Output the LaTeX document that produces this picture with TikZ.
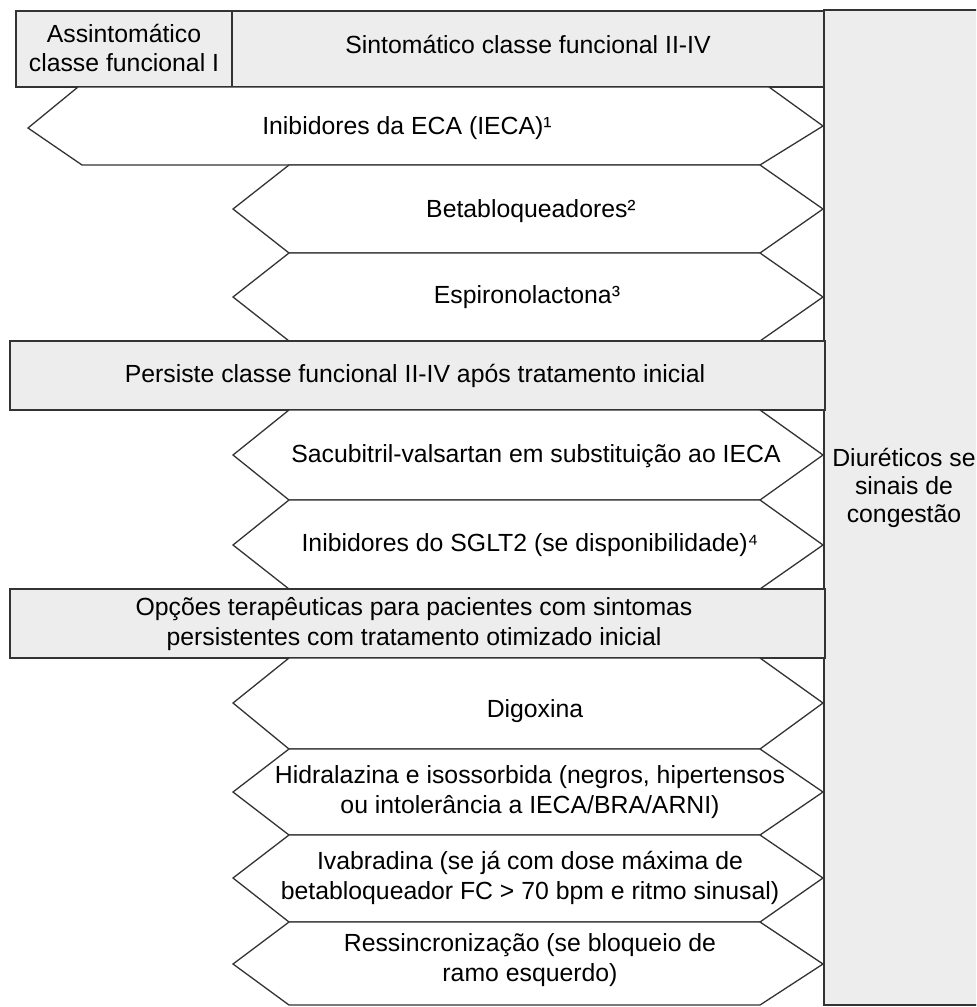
\documentclass[tikz,border=0pt]{standalone}
\usepackage{fontspec}
\setmainfont{Liberation Sans}
\definecolor{boxgray}{HTML}{EDEDED}
\definecolor{edge}{HTML}{333333}
\begin{document}
\begin{tikzpicture}[x=0.5pt,y=-0.5pt,line width=0.65pt,
  gbox/.style={draw=edge, fill=boxgray},
  hexa/.style={draw=edge, fill=white, line join=miter},
  lbl/.style={font=\fontsize{12.4}{14.6}\selectfont, align=center, inner sep=0pt, text=black}]
\useasboundingbox (0,0) rectangle (976,1007);
\clip (0,0) rectangle (976,1007);
% right column
\draw[gbox] (824,10) rectangle (990,1005);
\node[lbl, font=\fontsize{12.4}{13.8}\selectfont] (diur) at (904,488) {Diuréticos se\\sinais de\\congestão};
% top row
\draw[gbox] (16,11) rectangle (232,87);
\draw[gbox] (232,11) rectangle (824,87);
\node[lbl] (assint) at (124,48) {Assintomático\\classe funcional I};
\node[lbl] (sint) at (528,44) {Sintomático classe funcional II-IV};
% IECA band
\draw[hexa] (78,87) -- (769,87) -- (823,126) -- (760,165) -- (82,165) -- (28,128) -- cycle;
\node[lbl] (ieca) at (407,128) {Inibidores da ECA (IECA)¹};
% bands
\draw[hexa] (289,165) -- (760,165) -- (823,209) -- (760,253) -- (289,253) -- (233,209) -- cycle;
\node[lbl] (beta) at (531,211) {Betabloqueadores²};
\draw[hexa] (289,253) -- (760,253) -- (823,297) -- (760,341) -- (289,341) -- (233,297) -- cycle;
\node[lbl] (espiro) at (527,297) {Espironolactona³};
% persiste
\draw[gbox] (10,341) rectangle (825,410);
\node[lbl] (persiste) at (415,376) {Persiste classe funcional II-IV após tratamento inicial};
\draw[hexa] (289,410) -- (760,410) -- (823,455) -- (760,500) -- (289,500) -- (233,455) -- cycle;
\node[lbl] (sacu) at (536,456) {Sacubitril-valsartan em substituição ao IECA};
\draw[hexa] (289,500) -- (760,500) -- (823,545) -- (760,589) -- (289,589) -- (233,545) -- cycle;
\node[lbl] (sglt) at (530,545) {Inibidores do SGLT2 (se disponibilidade)⁴};
% opcoes
\draw[gbox] (10,589) rectangle (825,658);
\node[lbl] (opcoes) at (414,624) {Opções terapêuticas para pacientes com sintomas\\persistentes com tratamento otimizado inicial};
\draw[hexa] (289,658) -- (760,658) -- (823,703) -- (760,749) -- (289,749) -- (233,703) -- cycle;
\node[lbl] (digox) at (535,711) {Digoxina};
\draw[hexa] (289,749) -- (760,749) -- (823,792) -- (760,835) -- (289,835) -- (233,792) -- cycle;
\node[lbl] (hidral) at (530,792) {Hidralazina e isossorbida (negros, hipertensos\\ou intolerância a IECA/BRA/ARNI)};
\draw[hexa] (289,835) -- (760,835) -- (823,878) -- (760,922) -- (289,922) -- (233,878) -- cycle;
\node[lbl] (ivab) at (530,878) {Ivabradina (se já com dose máxima de\\betabloqueador FC > 70 bpm e ritmo sinusal)};
\draw[hexa] (289,922) -- (760,922) -- (823,964) -- (760,1005) -- (289,1005) -- (233,964) -- cycle;
\node[lbl] (ressinc) at (530,960) {Ressincronização (se bloqueio de\\ramo esquerdo)};
\end{tikzpicture}
\end{document}
